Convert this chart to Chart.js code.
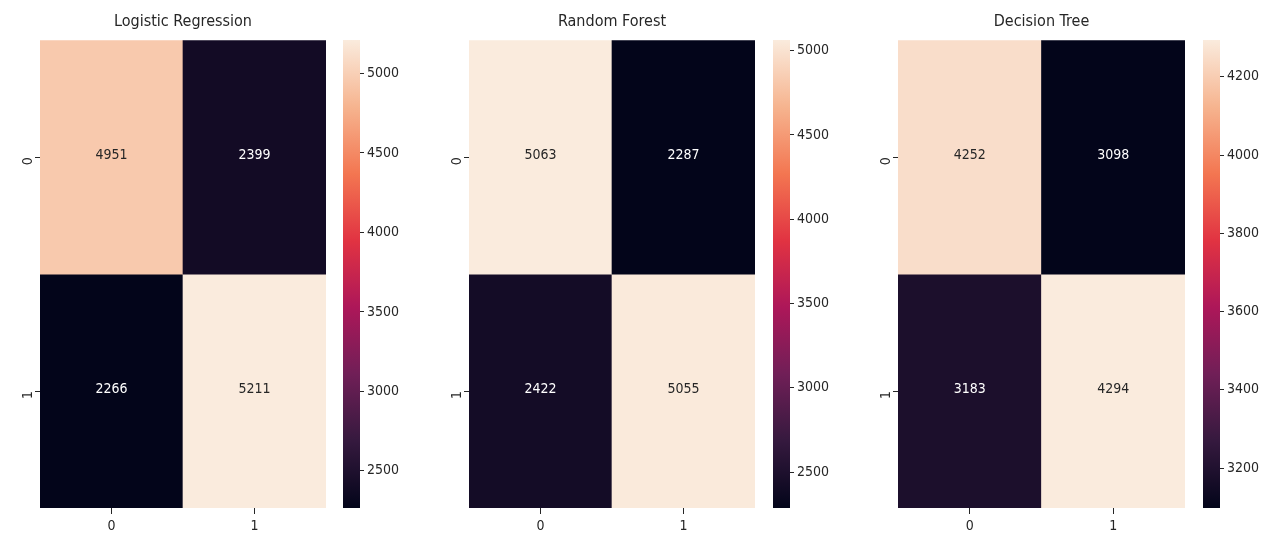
<!DOCTYPE html>
<html>
<head>
<meta charset="utf-8">
<script src="https://cdn.jsdelivr.net/npm/chart.js@4.4.1/dist/chart.umd.min.js"></script>
<style>
  html, body { margin: 0; padding: 0; background: #fff; }
  #wrap { position: relative; width: 1273px; height: 536px; }
  .box { position: absolute; top: 0; height: 536px; }
</style>
</head>
<body>
<div id="wrap">
  <div class="box" style="left:0px;width:366px"><canvas id="hm0"></canvas></div>
  <div class="box" style="left:343px;width:80px"><canvas id="cb0"></canvas></div>
  <div class="box" style="left:429px;width:366px"><canvas id="hm1"></canvas></div>
  <div class="box" style="left:773px;width:80px"><canvas id="cb1"></canvas></div>
  <div class="box" style="left:858px;width:367px"><canvas id="hm2"></canvas></div>
  <div class="box" style="left:1203px;width:70px"><canvas id="cb2"></canvas></div>
</div>
<script>
// data
const titles = ["Logistic Regression", "Random Forest", "Decision Tree"];
const classLabels = ["0", "1"];
const logisticMatrix = [[4951, 2399], [2266, 5211]];
const forestMatrix = [[5063, 2287], [2422, 5055]];
const treeMatrix = [[4252, 3098], [3183, 4294]];
const logisticTicks = [2500, 3000, 3500, 4000, 4500, 5000];
const forestTicks = [2500, 3000, 3500, 4000, 4500, 5000];
const treeTicks = [3200, 3400, 3600, 3800, 4000, 4200];

// seaborn "rocket" approximation
const rocketStops = [
    [0.0, [3, 5, 26]],
    [0.143, [53, 25, 62]],
    [0.286, [112, 31, 87]],
    [0.429, [173, 23, 89]],
    [0.571, [225, 51, 66]],
    [0.714, [243, 118, 81]],
    [0.857, [246, 180, 143]],
    [1.0, [250, 235, 221]],
];

function rocket(t) {
    t = Math.max(0, Math.min(1, t));
    for (let i = 1; i < rocketStops.length; i++) {
        const [p1, c1] = rocketStops[i];
        const [p0, c0] = rocketStops[i - 1];
        if (t <= p1) {
            const f = (t - p0) / (p1 - p0);
            const c = c0.map((v, k) => Math.round(v + (c1[k] - v) * f));
            return { rgb: c, css: `rgb(${c[0]},${c[1]},${c[2]})` };
        }
    }
    const c = rocketStops[rocketStops.length - 1][1];
    return { rgb: c, css: `rgb(${c[0]},${c[1]},${c[2]})` };
}

const FONT = "'DejaVu Sans Condensed', 'DejaVu Sans', sans-serif";
const TEXT = "#262626";

// writes the count in the middle of every cell
const cellText = {
    id: "cellText",
    afterDatasetsDraw(chart) {
        const { ctx, scales } = chart;
        const { matrix, lo, hi } = chart.options.plugins.cellText;
        ctx.save();
        ctx.font = "14px " + FONT;
        ctx.textAlign = "center";
        ctx.textBaseline = "middle";
        matrix.forEach((row, r) => {
            row.forEach((v, c) => {
                const rgb = rocket((v - lo) / (hi - lo)).rgb;
                const lum = (0.299 * rgb[0] + 0.587 * rgb[1] + 0.114 * rgb[2]) / 255;
                ctx.fillStyle = lum > 0.5 ? TEXT : "#ffffff";
                ctx.fillText(String(v), scales.x.getPixelForValue(c), scales.y.getPixelForValue(r + 0.5) - 2);
            });
        });
        ctx.restore();
    },
};

function drawHeatmap(id, title, matrix) {
    const flat = matrix.flat();
    const lo = Math.min(...flat);
    const hi = Math.max(...flat);
    const datasets = matrix.map((row, r) => ({
        data: row.map((v, c) => ({ x: c, y: [r, r + 1] })),
        backgroundColor: row.map((v) => rocket((v - lo) / (hi - lo)).css),
        barPercentage: 1,
        categoryPercentage: 1,
        borderWidth: 0,
        grouped: false,
    }));
    new Chart(document.getElementById(id), {
        type: "bar",
        data: { datasets: datasets },
        plugins: [cellText],
        options: {
            responsive: true,
            maintainAspectRatio: false,
            animation: false,
            layout: { padding: 0 },
            plugins: {
                legend: { display: false },
                tooltip: { enabled: false },
                title: {
                    display: true,
                    text: title,
                    color: TEXT,
                    font: { family: FONT, size: 16, weight: "normal" },
                    padding: { top: 12, bottom: 9 },
                },
                cellText: { matrix: matrix, lo: lo, hi: hi },
            },
            scales: {
                x: {
                    type: "linear",
                    offset: false,
                    min: -0.5,
                    max: 1.5,
                    afterBuildTicks: (s) => { s.ticks = [{ value: 0 }, { value: 1 }]; },
                    grid: { drawOnChartArea: false, offset: false, tickLength: 6, tickColor: TEXT, color: TEXT },
                    border: { display: false },
                    ticks: {
                        color: TEXT,
                        font: { family: FONT, size: 14 },
                        padding: 4,
                        maxRotation: 0,
                        callback: (v) => classLabels[v],
                    },
                    afterFit: (s) => { s.height = 28; },
                },
                y: {
                    reverse: true,
                    min: 0,
                    max: 2,
                    afterBuildTicks: (s) => { s.ticks = [{ value: 0.5 }, { value: 1.5 }]; },
                    grid: { drawOnChartArea: false, tickLength: 5, tickColor: TEXT, color: TEXT },
                    border: { display: false },
                    ticks: {
                        color: TEXT,
                        font: { family: FONT, size: 14 },
                        minRotation: 90,
                        maxRotation: 90,
                        padding: 7,
                        callback: (v) => classLabels[Math.floor(v)],
                    },
                    afterFit: (s) => { s.width = 40; },
                },
                // empty right axis, mirrors the left one so the title sits over the cells
                yPad: {
                    type: "linear",
                    position: "right",
                    display: true,
                    grid: { display: false },
                    border: { display: false },
                    ticks: { display: false },
                    afterFit: (s) => { s.width = 40; },
                },
            },
        },
    });
}

function drawColorbar(id, matrix, tickValues) {
    const flat = matrix.flat();
    const lo = Math.min(...flat);
    const hi = Math.max(...flat);
    new Chart(document.getElementById(id), {
        type: "bar",
        data: {
            labels: [""],
            datasets: [{
                data: [[lo, hi]],
                barPercentage: 1,
                categoryPercentage: 1,
                borderWidth: 0,
                backgroundColor: (ctx) => {
                    const area = ctx.chart.chartArea;
                    if (!area) return "#000";
                    const g = ctx.chart.ctx.createLinearGradient(0, area.bottom, 0, area.top);
                    rocketStops.forEach(([p, c]) => g.addColorStop(p, `rgb(${c[0]},${c[1]},${c[2]})`));
                    return g;
                },
            }],
        },
        options: {
            responsive: true,
            maintainAspectRatio: false,
            animation: false,
            layout: { padding: { top: 40, bottom: 28 } },
            plugins: { legend: { display: false }, tooltip: { enabled: false } },
            scales: {
                x: { display: false },
                y: {
                    position: "right",
                    min: lo,
                    max: hi,
                    afterBuildTicks: (s) => { s.ticks = tickValues.map((v) => ({ value: v })); },
                    grid: { drawOnChartArea: false, tickLength: 4, tickColor: TEXT, color: TEXT },
                    border: { display: false },
                    ticks: {
                        color: TEXT,
                        font: { family: FONT, size: 14 },
                        padding: 3,
                        callback: (v) => String(v),
                    },
                    afterFit: (s) => { s.width = s.chart.width - 17; },
                },
            },
        },
    });
}

drawHeatmap("hm0", titles[0], logisticMatrix);
drawColorbar("cb0", logisticMatrix, logisticTicks);
drawHeatmap("hm1", titles[1], forestMatrix);
drawColorbar("cb1", forestMatrix, forestTicks);
drawHeatmap("hm2", titles[2], treeMatrix);
drawColorbar("cb2", treeMatrix, treeTicks);
</script>
</body>
</html>
